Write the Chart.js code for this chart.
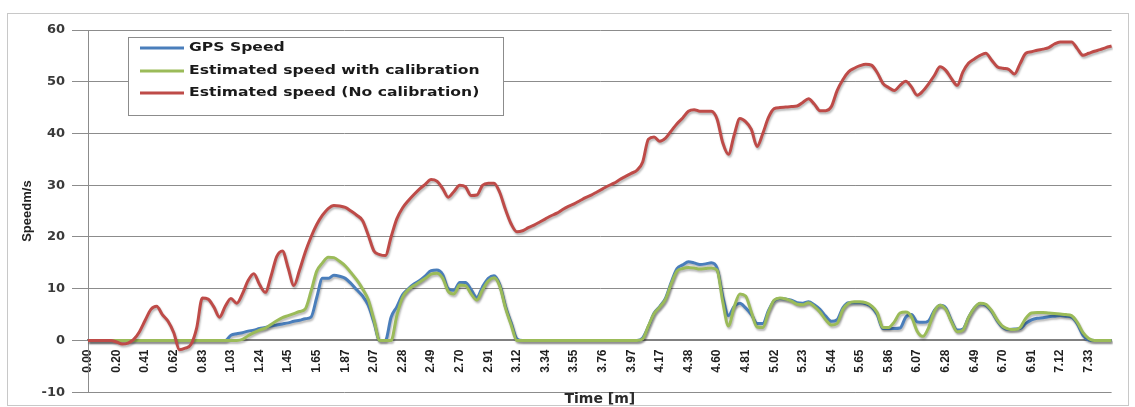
<!DOCTYPE html>
<html><head><meta charset="utf-8">
<script src="https://cdn.jsdelivr.net/npm/chart.js@4.4.1/dist/chart.umd.min.js"></script>
<style>
html,body{margin:0;padding:0;background:#fff;overflow:hidden}
#wrap{position:relative;width:1135px;height:407px}
</style></head><body>
<div id="wrap"><canvas id="c"></canvas></div>
<script>
const tickLabels = ['0.00','0.20','0.41','0.62','0.83','1.03','1.24','1.45','1.65','1.87','2.07','2.28','2.49','2.70','2.91','3.12','3.34','3.55','3.76','3.97','4.17','4.38','4.60','4.81','5.02','5.23','5.44','5.65','5.86','6.07','6.28','6.49','6.70','6.91','7.12','7.33'];

const seriesNames = ['GPS Speed', 'Estimated speed with calibration', 'Estimated speed (No calibration)'];

const gpsSpeed = [
 0,0,0,0,0, 0,0,0,0,0, 0,0,0,0,0, 0,0,0,0,0, 0,0,0,0,0,
 1.0,1.3,1.5,1.8,2.0, 2.3,2.5,2.8,3.0,3.2, 3.4,3.7,3.9,4.2,4.5,
 8.3,12.0,12.0,12.6,12.4, 12.0,11.0,9.8,8.6,6.8, 3.5,0,0,4.5,6.5,
 8.8,10.0,10.9,11.6,12.5, 13.5,13.6,12.8,10.0,9.7, 11.2,11.2,9.8,8.3,10.4,
 12.0,12.5,10.8,6.6,3.4, 0.3,
 0,0,0,0,0, 0,0,0,0,0, 0,0,0,0,0, 0,0,0,0,0, 0,
 0.5,2.7,5.3, 6.6,8.2,11.3,13.9,14.6, 15.2,15.0,14.7,14.8,15.0,
 14.0,8.5,4.8,6.6,7.2, 6.3,5.0,3.3,3.3,5.8, 7.7,8.1,8.0,7.8,7.3,
 7.2,7.5,6.9,6.0,4.7, 3.7,4.0,6.3,7.3,7.3, 7.3,7.1,6.5,5.0,2.3,
 2.3,2.3,2.4,4.5,5.0, 3.6,3.5,3.8,5.8,6.8, 6.3,3.8,2.0,2.2,4.5,
 6.3,7.1,6.8,5.6,3.8, 2.5,2.1,2.2,2.3,3.3, 4.0,4.3,4.4,4.6,4.7,
 4.8,4.7,4.5,3.2,1.0, 0.1,0,0,0,0
];

const calibrated = [
 0,0,0,0,0, 0,0,0,0,0, 0,0,0,0,0, 0,0,0,0,0, 0,0,0,0,0, 0,0,
 0.2,0.9,1.5, 2.0,2.4,3.1,3.8,4.4, 4.8,5.2,5.6,6.1,9.5,
 13.4,15.0,16.1,16.0,15.3, 14.4,13.1,11.7,10.0,7.9, 4.0,0,0,0,4.8,
 8.3,9.8,10.6,11.3,12.0, 12.8,13.0,12.1,9.5,9.0, 10.7,10.6,9.0,7.8,9.8,
 11.5,12.1,10.5,6.3,3.0, 0,
 0,0,0,0,0, 0,0,0,0,0, 0,0,0,0,0, 0,0,0,0,0, 0,
 0.3,2.8,5.2, 6.5,8.0,11.0,13.4,13.9, 14.1,14.0,13.8,13.9,14.0,
 13.6,7.5,2.8,6.5,9.0, 8.6,5.5,2.6,2.5,5.5, 7.8,8.2,8.0,7.6,7.0,
 6.9,7.3,6.6,5.5,4.0, 3.0,3.3,6.0,7.2,7.5, 7.5,7.3,6.7,5.4,2.5,
 2.5,3.6,5.3,5.5,4.6, 1.8,0.8,2.5,5.6,6.8, 6.0,3.6,1.7,2.0,4.5,
 6.3,7.2,7.0,5.8,4.0, 2.7,2.2,2.1,2.5,4.3, 5.3,5.4,5.4,5.3,5.2,
 5.1,5.0,4.8,3.5,1.5, 0.4,0,0,0,0
];

const uncalibrated = [
 0,0,0,0,0, -0.3,-0.7,-0.5,0.2,1.7, 3.9,6.0,6.6,5.0,3.7, 1.5,-1.8,-1.5,-0.8,2.4,
 8.2,8.0,6.5,4.5,6.6, 8.1,7.2,9.0,11.6,12.9, 10.8,9.3,12.4,16.2,17.3, 14.0,10.6,13.6,17.1,20.0,
 22.4,24.2,25.5,26.1,26.0, 25.7,25.0,24.2,23.2,20.4, 17.3,16.6,16.4,20.0,23.5, 25.6,27.0,28.2,29.3,30.2,
 31.1,30.8,29.4,27.7,28.8, 30.0,29.7,28.0,28.1,30.0, 30.4,30.4,28.6,25.3,22.5, 21.0,21.2,21.8,22.3,22.9,
 23.5,24.1,24.6,25.3,25.9, 26.4,27.0,27.6,28.1,28.7, 29.3,29.9,30.4,31.1,31.7, 32.3,32.9,34.5,38.9,39.3,
 38.5,39.1,40.5,41.9,43.0, 44.3,44.6,44.3,44.3,44.3, 42.8,38.2,36.0,39.7,42.9, 42.3,40.8,37.5,40.0,43.1,
 44.8,45.0,45.1,45.2,45.3, 46.0,46.7,45.7,44.4,44.4, 45.2,48.3,50.4,51.9,52.6, 53.1,53.4,53.2,51.8,49.7,
 48.9,48.3,49.3,50.1,49.0, 47.4,48.2,49.6,51.2,52.9, 52.2,50.6,49.3,51.9,53.6, 54.4,55.1,55.5,54.2,52.9,
 52.6,52.4,51.5,53.5,55.5, 55.8,56.1,56.3,56.6,57.3, 57.7,57.7,57.7,56.4,55.1, 55.5,55.9,56.2,56.6,56.9
];

const yMin = -10, yMax = 60, yStep = 10;
const pointsPerTick = 5;
const categories = uncalibrated.map((_, i) => i % pointsPerTick === 0 ? (tickLabels[i / pointsPerTick] || '') : '');

const shadowPlugin = {
  id: 'lineShadow',
  beforeDatasetDraw(chart) {
    const ctx = chart.ctx;
    ctx.save();
    ctx.shadowColor = 'rgba(0,0,0,0.28)';
    ctx.shadowBlur = 2;
    ctx.shadowOffsetX = 1;
    ctx.shadowOffsetY = 2;
  },
  afterDatasetDraw(chart) { chart.ctx.restore(); }
};

const boxLegend = {
  id: 'boxLegend',
  beforeDraw(chart) {
    const ctx = chart.ctx;
    ctx.save();
    ctx.strokeStyle = '#c8c8c8';
    ctx.lineWidth = 1;
    ctx.strokeRect(7.5, 13.5, 1121, 392);
    ctx.restore();
  },
  afterDraw(chart) {
    const ctx = chart.ctx;
    const x0 = 128.5, y0 = 37.5, w = 375, h = 78;
    ctx.save();
    ctx.fillStyle = '#fff';
    ctx.fillRect(x0, y0, w, h);
    ctx.strokeStyle = '#8c8c8c';
    ctx.lineWidth = 1;
    ctx.strokeRect(x0, y0, w, h);
    const rows = [48, 71, 93];
    chart.data.datasets.forEach((ds, k) => {
      const y = rows[k];
      ctx.strokeStyle = ds.borderColor;
      ctx.lineWidth = 3;
      ctx.beginPath(); ctx.moveTo(140, y); ctx.lineTo(184, y); ctx.stroke();
      ctx.save();
      ctx.translate(189, y);
      ctx.scale(1.2, 1);
      ctx.font = 'bold 13px "DejaVu Sans"';
      ctx.fillStyle = '#1a1a1a';
      ctx.textBaseline = 'middle';
      ctx.fillText(ds.label, 0, 0);
      ctx.restore();
    });
    ctx.restore();
  }
};

new Chart(document.getElementById('c'), {
  type: 'line',
  data: {
    labels: categories,
    datasets: [
      {label: seriesNames[0], data: gpsSpeed, borderColor: '#4a7ebb', backgroundColor: '#4a7ebb', order: 3},
      {label: seriesNames[1], data: calibrated, borderColor: '#9bbb59', backgroundColor: '#9bbb59', order: 2},
      {label: seriesNames[2], data: uncalibrated, borderColor: '#be4b48', backgroundColor: '#be4b48', order: 1}
    ]
  },
  options: {
    responsive: true,
    maintainAspectRatio: false,
    animation: false,
    layout: {padding: {left: 16, top: 30, right: 14, bottom: 0}},
    elements: {
      point: {radius: 0, hoverRadius: 0},
      line: {borderWidth: 3, cubicInterpolationMode: 'monotone', fill: false}
    },
    plugins: {
      legend: {display: false},
      tooltip: {enabled: false},
      title: {
        display: true, position: 'bottom', fullSize: false, text: 'Time [m]', color: '#2a2a2a',
        font: {family: 'DejaVu Sans', weight: 'bold', size: 14, lineHeight: 1}, padding: 0
      }
    },
    scales: {
      x: {
        type: 'category',
        position: {y: 0},
        grid: {display: false, drawTicks: false},
        border: {display: true, color: '#808080', width: 2},
        ticks: {
          autoSkip: false, maxRotation: 90, minRotation: 90, padding: 9, color: '#1e1e1e',
          font: {family: 'Liberation Sans', weight: 'bold', size: 12}
        }
      },
      y: {
        min: yMin, max: yMax,
        ticks: {stepSize: yStep, padding: 7, color: '#3a3a3a', font: {family: 'DejaVu Sans', weight: 'bold', size: 13}},
        grid: {color: '#8c8c8c', lineWidth: 1, tickLength: 16},
        border: {color: '#8c8c8c', width: 1},
        title: {display: true, text: 'Speedm/s', color: '#222', font: {family: 'Liberation Sans', weight: 'bold', size: 13}, padding: {top: 4, bottom: 0}},
        afterFit(s) { s.width = 72; }
      }
    }
  },
  plugins: [boxLegend, shadowPlugin]
});
</script>
</body></html>
